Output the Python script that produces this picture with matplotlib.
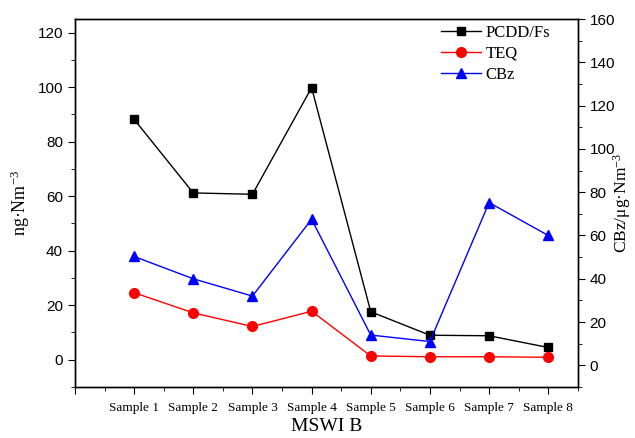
import matplotlib
matplotlib.use("Agg")
import matplotlib.pyplot as plt
from matplotlib.ticker import MultipleLocator

samples = ["Sample 1", "Sample 2", "Sample 3", "Sample 4",
           "Sample 5", "Sample 6", "Sample 7", "Sample 8"]
pcdd = [88.2, 61.2, 60.7, 99.8, 17.6, 9.0, 8.8, 4.5]
teq = [24.6, 17.2, 12.2, 17.8, 1.4, 1.1, 1.1, 0.9]
cbz = [50.3, 40.0, 32.0, 67.5, 14.0, 11.0, 75.2, 60.0]

serif = "Liberation Serif"
sans = "Liberation Sans"

# superscripts in the axis titles should use the same serif face
plt.rcParams["mathtext.fontset"] = "custom"
plt.rcParams["mathtext.rm"] = serif
plt.rcParams["mathtext.it"] = serif + ":italic"
plt.rcParams["mathtext.default"] = "rm"

fig = plt.figure(figsize=(6.35, 4.38), dpi=100)
ax = fig.add_axes([0.118, 0.1164, 0.792, 0.8402])
ax2 = ax.twinx()

x = list(range(1, len(samples) + 1))
l1, = ax.plot(x, pcdd, color="black", lw=1, marker="s", ms=6, label="PCDD/Fs")
l2, = ax.plot(x, teq, color="red", lw=1, marker="o", ms=7, label="TEQ")
l3, = ax2.plot(x, cbz, color="blue", lw=1, marker="^", ms=7.5, label="CBz")

ax.set_xlim(0, 8.5)
ax.set_ylim(-10, 125)
ax2.set_ylim(-10, 160)

ax.set_xticks(range(0, 9))
ax.set_xticklabels([""] + samples, fontfamily=serif, fontsize=9.5)
ax.xaxis.set_minor_locator(MultipleLocator(0.5))
ax.yaxis.set_major_locator(MultipleLocator(20))
ax.yaxis.set_minor_locator(MultipleLocator(10))
ax2.yaxis.set_major_locator(MultipleLocator(20))
ax2.yaxis.set_minor_locator(MultipleLocator(10))

ax.tick_params(axis="x", which="major", direction="out", length=5, pad=6)
ax.tick_params(axis="x", which="minor", direction="out", length=3)
for a in (ax, ax2):
    a.tick_params(axis="y", which="major", direction="out", length=5, labelsize=11)
    a.tick_params(axis="y", which="minor", direction="out", length=3)
    for lab in a.get_yticklabels():
        lab.set_fontfamily(sans)
    for sp in a.spines.values():
        sp.set_linewidth(1)

ax.set_ylabel("ng·Nm$^{-3}$", fontfamily=serif, fontsize=13, labelpad=4)
ax2.set_ylabel("CBz/μg·Nm$^{-3}$", fontfamily=serif, fontsize=12.5)
ax2.yaxis.set_label_coords(1.066, 0.5)
ax.set_xlabel("MSWI B", fontfamily=serif, fontsize=14, labelpad=3)

ax.legend(handles=[l1, l2, l3], loc="upper right", bbox_to_anchor=(0.975, 1.025),
          frameon=False, prop={"family": serif, "size": 12},
          handlelength=2.4, handletextpad=0.3, labelspacing=0.3)

fig.savefig("out.png", dpi=100)
